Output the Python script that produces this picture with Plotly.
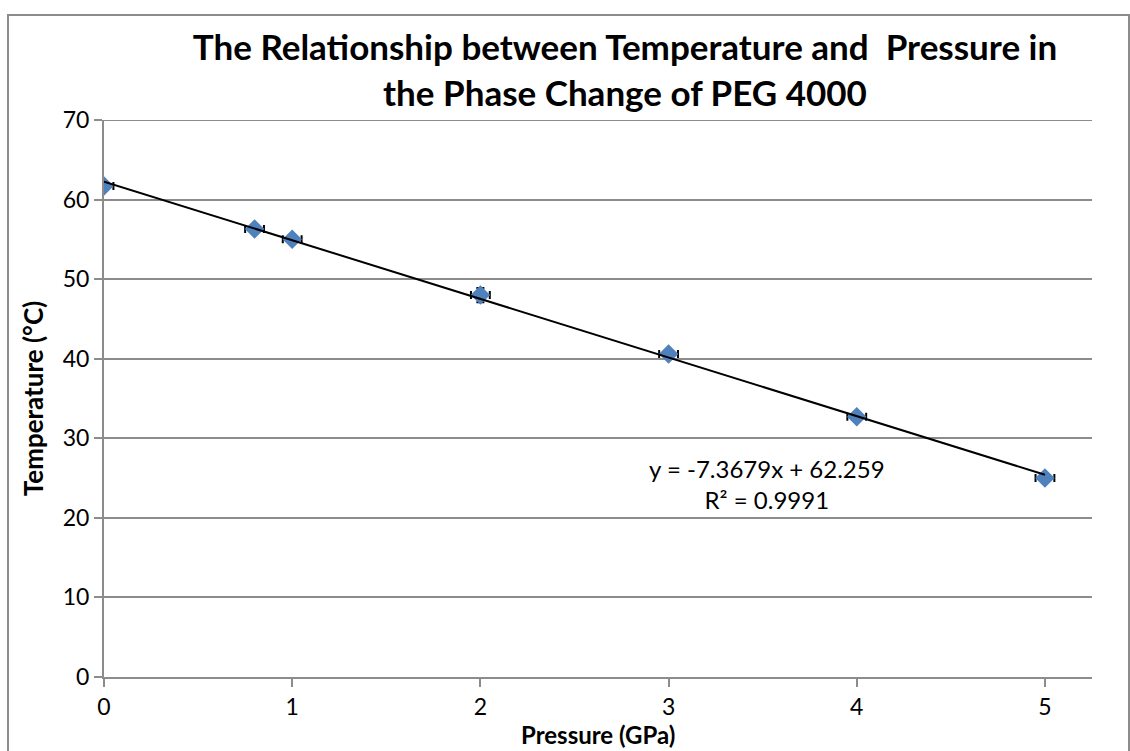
import plotly.graph_objects as go

pressure = [0, 0.8, 1, 2, 3, 4, 5]
temperature = [61.7, 56.3, 55.0, 48.0, 40.6, 32.7, 25.0]
pressure_err = [0.05, 0.05, 0.05, 0.05, 0.05, 0.05, 0.05]
temperature_err = [0.5, 0.5, 0.5, 0.9, 0.5, 0.5, 0.5]

slope = -7.3679
intercept = 62.259
trend_x = [0, 5]
trend_y = [slope * x + intercept for x in trend_x]

x_ticks = [0, 1, 2, 3, 4, 5]
y_ticks = [0, 10, 20, 30, 40, 50, 60, 70]

title_text = "The Relationship between Temperature and  Pressure in<br>the Phase Change of PEG 4000"
eq_text = "y = -7.3679x + 62.259<br>R² = 0.9991"
x_title = "Pressure (GPa)"
y_title = "Temperature (°C)"

FONT = "Lato"
GRID = "#8c8c8c"

fig = go.Figure()

fig.add_trace(go.Scatter(
    x=pressure, y=temperature, mode="markers",
    marker=dict(symbol="diamond", size=15, color="#4F81BD", line=dict(width=0)),
    error_x=dict(type="data", array=pressure_err, color="black", thickness=2, width=4),
    error_y=dict(type="data", array=temperature_err, color="black", thickness=2, width=4),
    showlegend=False, hoverinfo="skip",
))

fig.add_trace(go.Scatter(
    x=trend_x, y=trend_y, mode="lines",
    line=dict(color="black", width=2),
    showlegend=False, hoverinfo="skip",
))

L, R, T, B = 104, 38, 120, 74
W, H = 1130, 751
pw, ph = W - L - R, H - T - B

def px_to_paper_x(px):
    return (px - L) / pw

def py_to_paper_y(py):
    return (H - B - py) / ph

fig.update_layout(
    width=W, height=H,
    margin=dict(l=L, r=R, t=T, b=B, pad=0),
    paper_bgcolor="white", plot_bgcolor="white",
    font=dict(family=FONT, size=24, color="black"),
    title=dict(
        text="<b>" + title_text + "</b>",
        x=625 / W, xanchor="center",
        y=1 - 60 / H, yanchor="middle",
        font=dict(family=FONT, size=35, color="black"),
    ),
    xaxis=dict(
        range=[0, 5.25], tickvals=x_ticks, ticktext=[str(v) for v in x_ticks],
        showgrid=False, zeroline=False,
        showline=True, linecolor=GRID, linewidth=2,
        ticks="outside", ticklen=8, tickwidth=2, tickcolor=GRID,
        tickfont=dict(family=FONT, size=23, color="black"),
    ),
    yaxis=dict(
        range=[0, 70], tickvals=y_ticks, ticktext=[str(v) for v in y_ticks],
        showgrid=True, gridcolor=GRID, gridwidth=2, zeroline=False,
        showline=True, linecolor=GRID, linewidth=2,
        ticks="outside", ticklen=8, tickwidth=2, tickcolor=GRID,
        tickfont=dict(family=FONT, size=23, color="black"),
        title=dict(text="<b>" + y_title + "</b>", font=dict(family=FONT, size=26, color="black"), standoff=12),
    ),
    annotations=[
        dict(
            x=px_to_paper_x(767), y=py_to_paper_y(484), xref="paper", yref="paper",
            text=eq_text, showarrow=False, xanchor="center", yanchor="middle",
            align="center", font=dict(family=FONT, size=24, color="black"),
        ),
        dict(
            x=0.5, y=py_to_paper_y(734), xref="paper", yref="paper",
            text="<b>" + x_title + "</b>", showarrow=False, xanchor="center", yanchor="middle",
            font=dict(family=FONT, size=24, color="black"),
        ),
    ],
    shapes=[
        dict(
            type="rect", xref="paper", yref="paper",
            x0=px_to_paper_x(8), x1=px_to_paper_x(1129),
            y0=py_to_paper_y(770), y1=py_to_paper_y(15),
            line=dict(color=GRID, width=2), fillcolor="rgba(0,0,0,0)", layer="below",
        ),
        dict(
            type="line", xref="paper", yref="y",
            x0=0, x1=1, y0=y_ticks[-1], y1=y_ticks[-1],
            line=dict(color=GRID, width=2), layer="below",
        ),
    ],
)

fig.write_html("out.html")
